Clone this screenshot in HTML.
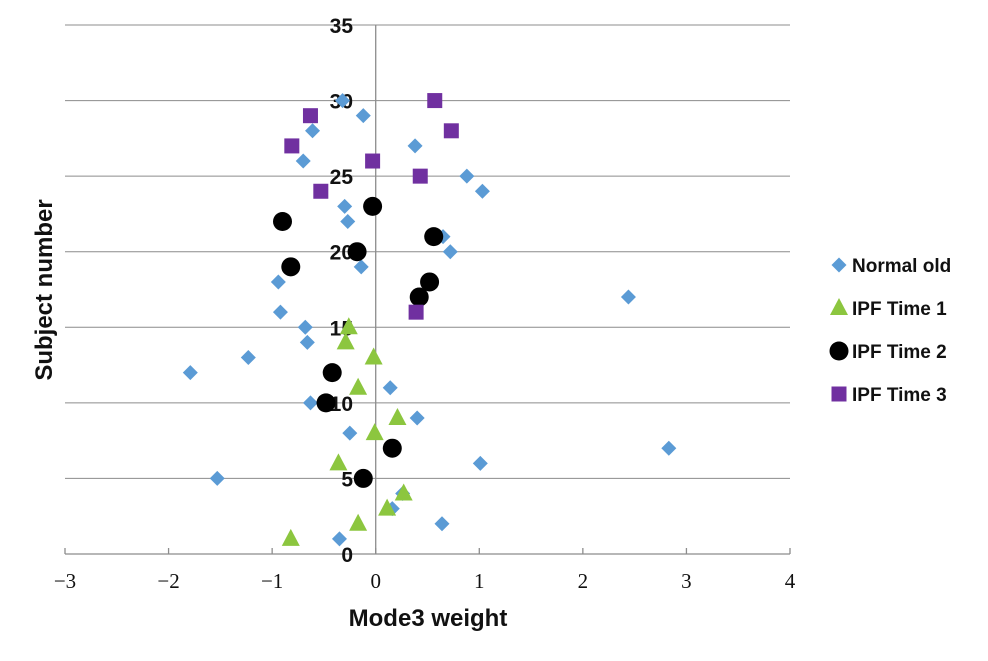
<!DOCTYPE html>
<html><head><meta charset="utf-8"><style>
body{margin:0;background:#fff;}
svg{display:block;}
</style></head><body>
<svg width="988" height="661" xmlns="http://www.w3.org/2000/svg">
<g id="grid"></g>
<g id="axes"></g>
<g id="ylabels"></g>
<g id="marks"></g>
<text x="428" y="626" text-anchor="middle" font-family="Liberation Sans, sans-serif" font-weight="bold" font-size="24" fill="#111">Mode3 weight</text>
<text transform="translate(52,290) rotate(-90)" text-anchor="middle" font-family="Liberation Sans, sans-serif" font-weight="bold" font-size="24" fill="#111">Subject number</text>
<g id="legend"></g>
</svg>
<script>
const xTicks=[-3,-2,-1,0,1,2,3,4];
const yTicks=[0,5,10,15,20,25,30,35];
const normalY=[1,2,3,4,5,6,7,8,9,10,11,12,13,14,15,16,17,18,19,20,21,22,23,24,25,26,27,28,29,30];
const normalX=[-0.35,0.64,0.16,0.26,-1.53,1.01,2.83,-0.25,0.40,-0.63,0.14,-1.79,-1.23,-0.66,-0.68,-0.92,2.44,-0.94,-0.14,0.72,0.65,-0.27,-0.30,1.03,0.88,-0.70,0.38,-0.61,-0.12,-0.32];
const t1Y=[1,2,3,4,6,8,9,11,13,14,15];
const t1X=[-0.82,-0.17,0.11,0.27,-0.36,-0.01,0.21,-0.17,-0.02,-0.29,-0.26];
const t2Y=[5,7,10,12,17,18,19,20,21,22,23];
const t2X=[-0.12,0.16,-0.48,-0.42,0.42,0.52,-0.82,-0.18,0.56,-0.90,-0.03];
const t3Y=[16,24,25,26,27,28,29,30];
const t3X=[0.39,-0.53,0.43,-0.03,-0.81,0.73,-0.63,0.57];
const legendLabels=["Normal old","IPF Time 1","IPF Time 2","IPF Time 3"];
const X0=65,X1=790,Y0=554,Y1=25;
const sx=v=>X0+(v-(-3))/7*(X1-X0);
const sy=v=>Y0-v/35*(Y0-Y1);
const NS="http://www.w3.org/2000/svg";
function mk(tag,attrs,parent){const e=document.createElementNS(NS,tag);for(const k in attrs)e.setAttribute(k,attrs[k]);parent.appendChild(e);return e;}
const grid=document.getElementById('grid'),axes=document.getElementById('axes'),marks=document.getElementById('marks'),yl=document.getElementById('ylabels'),lg=document.getElementById('legend');
yTicks.forEach(t=>{if(t===0)return;const l=mk('line',{x1:X0,x2:X1,y1:sy(t),y2:sy(t),stroke:'#8c8c8c','stroke-width':1},grid);

});
const ax=mk('line',{x1:X0,x2:X1,y1:Y0,y2:Y0,stroke:'#8c8c8c','stroke-width':1.3},axes);


const ay=mk('line',{x1:sx(0),x2:sx(0),y1:Y1,y2:Y0,stroke:'#8c8c8c','stroke-width':1.3},axes);


xTicks.forEach(t=>{const x=sx(t);const tk=mk('line',{x1:x,x2:x,y1:Y0-6,y2:Y0,stroke:'#8c8c8c','stroke-width':1.3},axes);


const tx=mk('text',{x:x,y:Y0+34,'text-anchor':'middle','font-family':'Liberation Serif, serif','font-size':21,fill:'#111'},axes);


tx.textContent=t<0?'\u2212'+(-t):String(t);});
yTicks.forEach(t=>{const tx=mk('text',{x:353,y:sy(t)+8,'text-anchor':'end','font-family':'Liberation Sans, sans-serif','font-weight':'bold','font-size':21,fill:'#111'},yl);


tx.textContent=String(t);});
function diamond(cx,cy,p){const r=7.5;const e=mk('polygon',{points:`${cx},${cy-r} ${cx+r},${cy} ${cx},${cy+r} ${cx-r},${cy}`,fill:'#5b9bd5'},p);return e;}
function tri(cx,cy,p){return mk('polygon',{points:`${cx},${cy-10} ${cx+9},${cy+7} ${cx-9},${cy+7}`,fill:'#8cc63f'},p);}
function circ(cx,cy,p){return mk('circle',{cx:cx,cy:cy,r:9.5,fill:'#000'},p);}
function sq(cx,cy,p){return mk('rect',{x:cx-7.5,y:cy-7.5,width:15,height:15,fill:'#7030a0'},p);}
normalX.forEach((v,i)=>{const e=diamond(sx(v),sy(normalY[i]),marks);

});
t1X.forEach((v,i)=>{const e=tri(sx(v),sy(t1Y[i]),marks);

});
t2X.forEach((v,i)=>{const e=circ(sx(v),sy(t2Y[i]),marks);

});
t3X.forEach((v,i)=>{const e=sq(sx(v),sy(t3Y[i]),marks);

});
const shapes=[diamond,tri,circ,sq];
legendLabels.forEach((lab,i)=>{const y=265+i*43;const g=mk('g',{},lg);


shapes[i](839,y,g);
const t=mk('text',{x:852,y:y+7,'font-family':'Liberation Sans, sans-serif','font-weight':'bold','font-size':19,fill:'#111'},g);
t.textContent=lab;});
</script>
</body></html>
